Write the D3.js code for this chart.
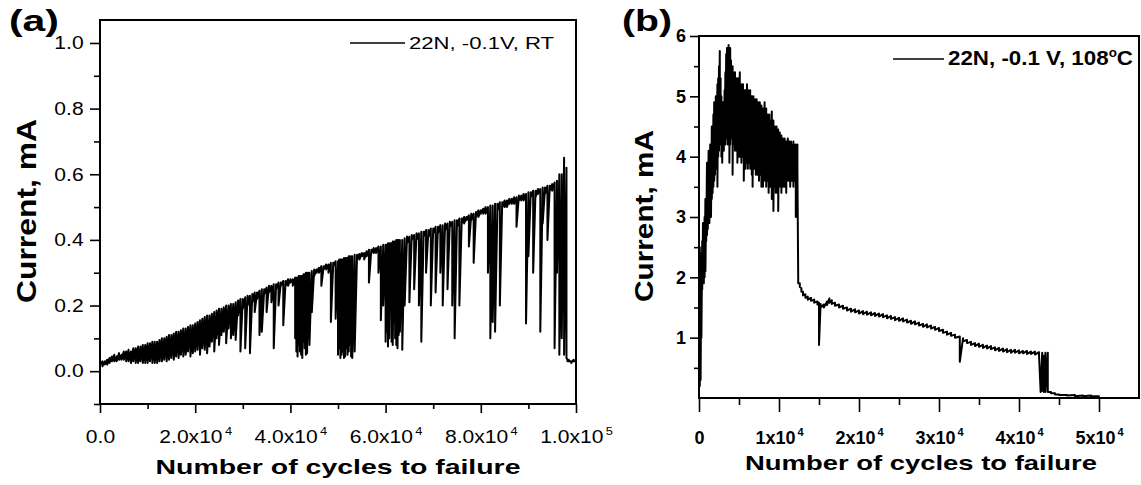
<!DOCTYPE html>
<html>
<head>
<meta charset="utf-8">
<script src="https://cdn.jsdelivr.net/npm/d3@7"></script>
<style>
  body { margin: 0; background: #fff; }
  text { font-family: "Liberation Sans", Arial, sans-serif; fill: #000; }
</style>
</head>
<body>
<svg id="chart" width="1141" height="485"></svg>
<script>
// ---- data ----
// rows: [cycles (x1000), upper current (mA), lower current (mA)]
const traceA = [
  [0,0.035,0.02],[0.5,0.03,0.015],[1,0.03,0.02],[1.5,0.035,0.02],[2,0.04,0.025],[2.5,0.045,0.03],
  [3,0.05,0.03],[3.5,0.045,0.03],[4,0.055,0.035],[4.5,0.05,0.035],[5,0.06,0.035],[5.5,0.06,0.03],
  [6,0.065,0.03],[6.5,0.06,0.025],[7,0.07,0.03],[7.5,0.07,0.025],[8,0.075,0.025],[8.5,0.075,0.03],
  [9,0.08,0.025],[9.5,0.08,0.025],[10,0.085,0.025],[10.5,0.085,0.03],[11,0.09,0.025],[11.5,0.09,0.025],
  [12,0.09,0.025],[12.5,0.095,0.03],[13,0.1,0.03],[13.5,0.1,0.035],[14,0.105,0.03],[14.5,0.11,0.035],
  [15,0.11,0.04],[15.5,0.115,0.035],[16,0.12,0.045],[16.5,0.12,0.04],[17,0.125,0.05],[17.5,0.13,0.045],
  [18,0.13,0.05],[18.5,0.135,0.06],[19,0.14,0.045],[19.5,0.14,0.055],[20,0.145,0.06],[20.5,0.15,0.065],
  [21,0.155,0.05],[21.5,0.16,0.07],[22,0.165,0.065],[22.5,0.17,0.055],[23,0.17,0.075],[23.5,0.175,0.09],
  [24,0.18,0.06],[24.5,0.185,0.1],[25,0.19,0.08],[25.5,0.19,0.11],[26,0.195,0.12],[26.5,0.2,0.085],
  [27,0.2,0.13],[27.5,0.205,0.1],[28,0.205,0.11],[28.5,0.21,0.095],[29,0.215,0.17],[29.5,0.22,0.06],
  [30,0.22,0.19],[30.5,0.225,0.07],[31,0.23,0.2],[31.5,0.23,0.055],[32,0.235,0.21],[32.5,0.24,0.18],
  [33,0.24,0.22],[33.5,0.245,0.11],[34,0.25,0.12],[34.5,0.25,0.235],[35,0.255,0.18],[35.5,0.26,0.24],
  [36,0.26,0.21],[36.5,0.265,0.07],[37,0.265,0.25],[37.5,0.27,0.2],[38,0.27,0.26],[38.5,0.275,0.14],
  [39,0.275,0.26],[39.5,0.28,0.26],[40,0.28,0.27],[40.5,0.28,0.26],[41,0.285,0.1],[41.25,0.285,0.06],
  [41.5,0.285,0.045],[41.75,0.29,0.08],[42,0.29,0.06],[42.25,0.29,0.05],[42.5,0.29,0.04],[42.75,0.295,0.09],
  [43,0.295,0.07],[43.25,0.3,0.05],[43.5,0.3,0.055],[43.75,0.3,0.1],[44,0.3,0.08],[44.5,0.305,0.18],
  [45,0.31,0.29],[45.5,0.31,0.3],[46,0.315,0.3],[46.5,0.32,0.26],[47,0.32,0.31],[47.5,0.325,0.31],
  [48,0.325,0.3],[48.5,0.33,0.15],[49,0.33,0.32],[49.5,0.335,0.16],[50,0.335,0.05],[50.25,0.34,0.07],
  [50.5,0.34,0.04],[50.75,0.34,0.05],[51,0.34,0.06],[51.25,0.345,0.04],[51.5,0.345,0.045],[51.75,0.345,0.07],
  [52,0.345,0.05],[52.25,0.35,0.06],[52.5,0.35,0.08],[52.75,0.35,0.045],[53,0.35,0.04],[53.5,0.355,0.06],
  [54,0.355,0.34],[54.5,0.357,0.34],[55,0.36,0.35],[55.5,0.36,0.34],[56,0.365,0.35],[56.5,0.37,0.27],
  [57,0.37,0.36],[57.5,0.375,0.36],[58,0.375,0.36],[58.5,0.38,0.3],[59,0.38,0.155],[59.5,0.385,0.2],
  [60,0.385,0.09],[60.25,0.385,0.12],[60.5,0.39,0.075],[60.75,0.39,0.1],[61,0.39,0.2],[61.25,0.39,0.09],
  [61.5,0.395,0.08],[61.75,0.395,0.15],[62,0.395,0.1],[62.25,0.4,0.08],[62.5,0.4,0.07],[62.75,0.4,0.11],
  [63,0.4,0.12],[63.5,0.4,0.065],[64,0.405,0.2],[64.5,0.41,0.39],[65,0.41,0.21],[65.5,0.415,0.4],
  [66,0.415,0.25],[66.5,0.42,0.4],[67,0.42,0.2],[67.5,0.425,0.09],[68,0.425,0.41],[68.5,0.43,0.3],
  [69,0.43,0.41],[69.5,0.435,0.2],[70,0.435,0.42],[70.5,0.44,0.24],[71,0.44,0.42],[71.5,0.445,0.3],
  [72,0.445,0.2],[72.5,0.45,0.43],[73,0.45,0.25],[73.5,0.455,0.44],[74,0.455,0.2],[74.5,0.46,0.1],
  [75,0.46,0.44],[75.5,0.465,0.2],[76,0.465,0.45],[76.5,0.47,0.45],[77,0.47,0.46],[77.5,0.475,0.38],
  [78,0.48,0.46],[78.5,0.48,0.33],[79,0.485,0.47],[79.5,0.49,0.47],[80,0.49,0.48],[80.5,0.495,0.48],
  [81,0.5,0.48],[81.5,0.5,0.3],[82,0.505,0.1],[82.5,0.505,0.15],[83,0.51,0.12],[83.5,0.51,0.49],
  [84,0.515,0.2],[84.5,0.515,0.5],[85,0.52,0.5],[85.5,0.52,0.5],[86,0.525,0.51],[86.5,0.525,0.51],
  [87,0.53,0.51],[87.5,0.53,0.44],[88,0.535,0.52],[88.5,0.535,0.52],[89,0.54,0.52],[89.5,0.54,0.145],
  [90,0.545,0.35],[90.5,0.545,0.53],[91,0.55,0.3],[91.5,0.55,0.53],[92,0.555,0.54],[92.5,0.555,0.12],
  [93,0.56,0.45],[93.5,0.56,0.54],[94,0.565,0.4],[94.5,0.565,0.55],[95,0.57,0.55],[95.5,0.575,0.07],
  [96,0.58,0.3],[96.5,0.6,0.05],[97,0.6,0.1],[97.5,0.65,0.05],[98,0.62,0.04],[98.2,0.035,0.03],
  [98.5,0.035,0.03],[99,0.03,0.025],[99.5,0.035,0.03],[100,0.03,0.03]
];

const traceB = [
  [0,2.8,2.2],[0.1,2.5,0.2],[0.2,2.0,0.3],[0.3,2.4,1.0],[0.4,2.6,1.8],[0.5,2.9,2.0],[0.6,2.7,1.9],
  [0.7,3.0,2.0],[0.8,3.3,2.1],[0.9,3.2,2.6],[1.0,3.9,2.7],[1.1,3.4,2.8],[1.2,4.1,2.9],[1.3,3.6,2.9],
  [1.4,4.2,3.0],[1.5,3.8,3.0],[1.6,4.5,3.3],[1.7,4.0,3.4],[1.8,4.7,3.5],[1.9,4.9,3.6],[2.0,4.6,3.7],
  [2.1,5.0,3.8],[2.2,4.8,3.9],[2.3,5.2,3.5],[2.4,5.3,4.0],[2.5,5.5,4.1],[2.6,5.75,4.2],[2.7,5.3,4.2],
  [2.8,5.0,4.0],[2.9,4.8,3.9],[3.0,4.9,4.2],[3.1,4.8,4.1],[3.2,5.1,4.3],[3.3,5.4,4.2],[3.4,5.7,4.4],
  [3.5,5.8,4.3],[3.6,5.6,4.2],[3.7,5.85,4.3],[3.8,5.7,3.9],[3.9,5.8,4.2],[4.0,5.6,4.4],[4.1,5.5,4.3],
  [4.2,5.5,3.7],[4.3,5.4,4.2],[4.4,5.3,4.2],[4.5,5.4,4.1],[4.6,5.3,4.3],[4.7,5.3,4.1],[4.8,5.2,3.9],
  [4.9,5.3,4.1],[5.0,5.3,4.0],[5.1,5.4,4.0],[5.2,5.2,4.2],[5.3,5.2,3.9],[5.4,5.1,4.0],[5.5,5.2,4.0],
  [5.6,5.0,3.6],[5.7,5.1,4.0],[5.8,5.1,3.8],[5.9,5.0,3.9],[6.0,5.2,4.0],[6.1,5.0,3.8],[6.2,5.1,4.0],
  [6.3,5.0,3.9],[6.4,5.1,3.8],[6.5,4.9,3.9],[6.6,5.0,3.7],[6.7,4.9,3.5],[6.8,5.0,3.9],[6.9,4.9,3.8],
  [7.0,4.95,3.9],[7.1,4.8,3.7],[7.2,4.95,3.8],[7.3,4.8,3.7],[7.4,4.9,3.8],[7.5,4.8,3.6],[7.6,4.9,3.7],
  [7.7,4.7,3.7],[7.8,4.85,3.5],[7.9,4.7,3.7],[8.0,4.8,3.5],[8.1,4.7,3.6],[8.2,4.9,3.7],[8.3,4.6,3.6],
  [8.4,4.8,3.5],[8.5,4.6,3.7],[8.6,4.7,3.6],[8.7,4.6,3.4],[8.8,4.7,3.6],[8.9,4.5,3.5],[9.0,4.6,3.6],
  [9.1,4.75,3.3],[9.2,4.5,3.5],[9.3,4.6,3.1],[9.4,4.4,3.5],[9.5,4.5,3.6],[9.6,4.4,3.4],[9.7,4.5,3.5],
  [9.8,4.3,3.4],[9.9,4.45,3.1],[10.0,4.3,3.5],[10.1,4.4,3.6],[10.2,4.3,3.5],[10.3,4.35,3.4],[10.4,4.2,3.6],
  [10.5,4.3,3.5],[10.6,4.2,3.6],[10.7,4.3,3.5],[10.8,4.2,3.7],[10.9,4.25,3.4],[11.0,4.2,3.6],[11.1,4.3,3.7],
  [11.2,4.2,3.6],[11.3,4.25,3.7],[11.4,4.1,3.5],[11.5,4.25,3.7],[11.6,4.2,3.6],[11.7,4.15,3.7],[11.8,4.25,3.5],
  [11.9,4.2,3.7],[12.0,4.1,3.6],[12.1,4.2,3.0],[12.2,4.15,3.7],[12.3,4.2,3.8],[12.4,2.0,1.9],
  [12.6,1.9,1.84],[12.8,1.82,1.76],[13.0,1.76,1.7],[13.3,1.72,1.66],[13.6,1.68,1.63],[14.0,1.66,1.61],
  [14.4,1.63,1.58],[14.8,1.6,1.55],[15.0,1.58,0.88],[15.2,1.56,1.5],[15.6,1.55,1.5],[16.0,1.6,1.54],
  [16.3,1.65,1.58],[16.6,1.62,1.56],[17.0,1.58,1.53],[17.5,1.55,1.5],[18.0,1.53,1.48],[18.5,1.5,1.45],
  [19.0,1.48,1.43],[19.5,1.47,1.42],[20.0,1.45,1.4],[20.5,1.44,1.39],[21.0,1.43,1.38],[21.5,1.42,1.37],
  [22.0,1.41,1.36],[22.5,1.4,1.35],[23.0,1.39,1.34],[23.5,1.37,1.32],[24.0,1.36,1.31],[24.5,1.34,1.29],
  [25.0,1.33,1.28],[25.5,1.32,1.27],[26.0,1.3,1.25],[26.5,1.28,1.23],[27.0,1.27,1.22],[27.5,1.25,1.2],
  [28.0,1.23,1.18],[28.5,1.22,1.17],[29.0,1.2,1.15],[29.5,1.18,1.13],[30.0,1.16,1.11],[30.5,1.13,1.08],
  [31.0,1.1,1.05],[31.5,1.08,1.03],[32.0,1.05,1.0],[32.6,1.02,0.6],[33.0,0.99,0.94],[33.5,0.96,0.91],
  [34.0,0.93,0.88],[34.5,0.91,0.86],[35.0,0.9,0.85],[35.5,0.88,0.83],[36.0,0.87,0.82],[36.5,0.86,0.81],
  [37.0,0.84,0.79],[37.5,0.83,0.78],[38.0,0.82,0.77],[38.5,0.81,0.76],[39.0,0.8,0.75],[39.5,0.8,0.75],
  [40.0,0.79,0.74],[40.5,0.78,0.74],[41.0,0.78,0.73],[41.5,0.77,0.73],[42.0,0.77,0.72],[42.5,0.76,0.72],
  [42.7,0.12,0.1],[42.9,0.75,0.12],[43.1,0.7,0.1],[43.3,0.75,0.1],[43.6,0.75,0.1],[44,0.1,0.08],
  [44.5,0.08,0.06],[45,0.06,0.05],[46,0.05,0.04],[47,0.05,0.03],[48,0.04,0.03],[49,0.04,0.03],[50,0.03,0.02]
];

const xMajorA = [0, 20000, 40000, 60000, 80000, 100000];
const xMinorA = [10000, 30000, 50000, 70000, 90000];
const xLabelsA = [['0.0', ''], ['2.0x10', '4'], ['4.0x10', '4'], ['6.0x10', '4'], ['8.0x10', '4'], ['1.0x10', '5']];
const yMajorA = [0, 0.2, 0.4, 0.6, 0.8, 1.0];
const yMinorA = [-0.1, 0.1, 0.3, 0.5, 0.7, 0.9];

const xMajorB = [0, 10000, 20000, 30000, 40000, 50000];
const xMinorB = [5000, 15000, 25000, 35000, 45000];
const xLabelsB = [['0', ''], ['1x10', '4'], ['2x10', '4'], ['3x10', '4'], ['4x10', '4'], ['5x10', '4']];
const yMajorB = [1, 2, 3, 4, 5, 6];
const yMinorB = [0.5, 1.5, 2.5, 3.5, 4.5, 5.5];

const svg = d3.select('#chart');

function drawPanel(p) {
  const x = d3.scaleLinear().domain(p.xDomain).range([p.left, p.right]);
  const y = d3.scaleLinear().domain(p.yDomain).range([p.bottom, p.top]);
  const g = svg.append('g');

  g.append('clipPath').attr('id', 'clip' + p.id)
    .append('rect').attr('x', p.left).attr('y', p.top)
    .attr('width', p.right - p.left).attr('height', p.bottom - p.top);

  // each row becomes a vertical stroke from upper to lower value
  const pts = p.trace.flatMap(r => [[r[0] * 1000, r[1]], [r[0] * 1000, r[2]]]);
  const line = d3.line().x(d => x(d[0])).y(d => y(d[1]));
  g.append('path').datum(pts)
    .attr('clip-path', `url(#clip${p.id})`)
    .attr('d', line).attr('fill', 'none')
    .attr('stroke', '#000').attr('stroke-width', p.lineWidth)
    .attr('stroke-linejoin', 'round');

  // minor ticks
  g.append('g').attr('transform', `translate(0,${p.bottom})`)
    .call(d3.axisBottom(x).tickValues(p.xMinor).tickSize(p.xMinorLen).tickFormat(''));
  g.append('g').attr('transform', `translate(${p.left},0)`)
    .call(d3.axisLeft(y).tickValues(p.yMinor).tickSize(p.yMinorLen).tickFormat(''));

  // major ticks + labels
  const xa = g.append('g').attr('transform', `translate(0,${p.bottom})`)
    .call(d3.axisBottom(x).tickValues(p.xMajor).tickSize(p.xMajorLen).tickPadding(p.xPad));
  xa.selectAll('.tick text').each(function(d, i) {
    const t = d3.select(this).text(null)
      .attr('font-size', p.tickFont).attr('font-weight', p.tickWeight)
      .attr('transform', `scale(${p.tickStretch},1)`);
    t.append('tspan').text(p.xLabels[i][0]);
    if (p.xLabels[i][1]) {
      t.append('tspan').attr('dy', -8).attr('dx', 2).attr('font-size', 11).text(p.xLabels[i][1]);
    }
  });

  g.append('g').attr('transform', `translate(${p.left},0)`)
    .call(d3.axisLeft(y).tickValues(p.yMajor).tickSize(p.yMajorLen).tickPadding(p.yPad)
      .tickFormat(p.yFormat))
    .selectAll('.tick text')
    .attr('font-size', p.tickFont).attr('font-weight', p.tickWeight)
    .attr('transform', `scale(${p.tickStretch},1)`);

  g.selectAll('.domain').remove();
  g.selectAll('.tick line').attr('stroke', '#000').attr('stroke-width', 1.6);
  g.selectAll('.tick text').attr('fill', '#000').attr('font-family', '"Liberation Sans", Arial, sans-serif');

  // frame
  g.append('rect').attr('x', p.left).attr('y', p.top)
    .attr('width', p.right - p.left).attr('height', p.bottom - p.top)
    .attr('fill', 'none').attr('stroke', '#000').attr('stroke-width', 2);

  // axis titles
  g.append('text').attr('x', p.xTitleX).attr('y', p.xTitleY)
    .attr('text-anchor', 'middle').attr('font-size', 21).attr('font-weight', 'bold')
    .attr('textLength', p.xTitleLen).attr('lengthAdjust', 'spacingAndGlyphs')
    .text('Number of cycles to failure');
  g.append('text')
    .attr('transform', `translate(${p.yTitleX},${p.yTitleY}) rotate(-90)`)
    .attr('text-anchor', 'middle').attr('dy', '0.35em')
    .attr('font-size', p.yTitleFont).attr('font-weight', 'bold')
    .attr('textLength', p.yTitleLen).attr('lengthAdjust', 'spacingAndGlyphs')
    .text('Current, mA');

  // panel letter
  g.append('text').attr('x', p.tagX).attr('y', 31)
    .attr('font-size', 29).attr('font-weight', 'bold')
    .attr('textLength', 50).attr('lengthAdjust', 'spacingAndGlyphs')
    .text(p.tag);

  // legend
  g.append('line').attr('x1', p.legX1).attr('x2', p.legX2)
    .attr('y1', p.legY).attr('y2', p.legY)
    .attr('stroke', '#000').attr('stroke-width', 1.6);
  const lt = g.append('text').attr('x', p.legX2 + 4).attr('y', p.legY + 6)
    .attr('font-size', p.legFont).attr('font-weight', p.legWeight)
    .attr('textLength', p.legLen).attr('lengthAdjust', 'spacingAndGlyphs');
  p.legend.forEach(s => {
    const ts = lt.append('tspan').text(s[0]);
    if (s[1] === 'sup') ts.attr('dy', -8).attr('font-size', 12);
    if (s[1] === 'down') ts.attr('dy', 8);
  });
}

drawPanel({
  id: 'A', trace: traceA,
  xDomain: [0, 100000], yDomain: [-0.1, 1.07],
  left: 100, right: 576, top: 20, bottom: 404,
  xMajor: xMajorA, xMinor: xMinorA, xLabels: xLabelsA,
  yMajor: yMajorA, yMinor: yMinorA, yFormat: d3.format('.1f'),
  xMajorLen: 9, xMinorLen: 5, yMajorLen: 10, yMinorLen: 6, xPad: 17, yPad: 4,
  tickFont: 18, tickWeight: 'normal', tickStretch: 1.17,
  lineWidth: 2,
  xTitleX: 338, xTitleY: 474, xTitleLen: 365,
  yTitleX: 27, yTitleY: 211, yTitleLen: 184, yTitleFont: 27,
  tag: '(a)', tagX: 9,
  legX1: 350, legX2: 405, legY: 43, legFont: 17, legWeight: 'normal', legLen: 145,
  legend: [['22N, -0.1V, RT', '']]
});

drawPanel({
  id: 'B', trace: traceB,
  xDomain: [0, 55000], yDomain: [0, 6],
  left: 699, right: 1139, top: 36, bottom: 398,
  xMajor: xMajorB, xMinor: xMinorB, xLabels: xLabelsB,
  yMajor: yMajorB, yMinor: yMinorB, yFormat: d3.format('d'),
  xMajorLen: 14, xMinorLen: 7, yMajorLen: 9, yMinorLen: 5, xPad: 19, yPad: 4,
  tickFont: 18, tickWeight: 'bold', tickStretch: 1.0,
  lineWidth: 2,
  xTitleX: 921, xTitleY: 470, xTitleLen: 352,
  yTitleX: 644, yTitleY: 216, yTitleLen: 172, yTitleFont: 26,
  tag: '(b)', tagX: 622,
  legX1: 893, legX2: 944, legY: 59, legFont: 20, legWeight: 'bold', legLen: 185,
  legend: [['22N, -0.1 V, 108', ''], ['o', 'sup'], ['C', 'down']]
});
</script>
</body>
</html>
